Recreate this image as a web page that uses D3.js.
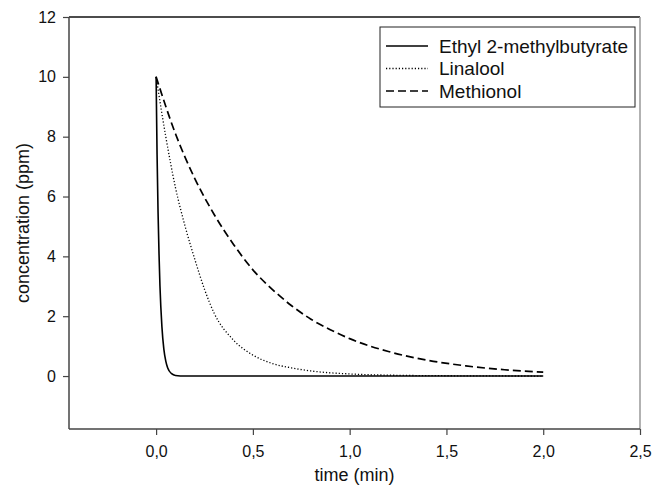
<!DOCTYPE html>
<html>
<head>
<meta charset="utf-8">
<script src="https://cdn.jsdelivr.net/npm/d3@7"></script>
<style>
  html, body { margin:0; padding:0; background:#fff; }
  svg { display:block; font-family: "Liberation Sans", Arial, sans-serif; }
</style>
</head>
<body>
<svg id="chart" width="653" height="491"></svg>
<script>
// --- Data ---
const ethylT   = [0, 0.005, 0.01, 0.015, 0.02, 0.03, 0.04, 0.05, 0.06, 0.08, 0.1, 0.15, 0.2, 0.5, 1.0, 1.5, 2.0];
const ethylC   = [10, 7.4, 5.5, 4.1, 3.0, 1.65, 0.9, 0.5, 0.27, 0.08, 0.02, 0, 0, 0, 0, 0, 0];

const linaloolT = [0, 0.05, 0.1, 0.15, 0.2, 0.25, 0.3, 0.4, 0.5, 0.6, 0.7, 0.8, 1.0, 1.2, 1.5, 2.0];
const linaloolC = [10, 8.0, 6.3, 5.0, 3.9, 2.9, 2.1, 1.2, 0.7, 0.42, 0.27, 0.17, 0.07, 0.03, 0.01, 0];

const methT = [0, 0.1, 0.2, 0.3, 0.4, 0.5, 0.6, 0.7, 0.8, 0.9, 1.0, 1.2, 1.4, 1.6, 1.8, 2.0];
const methC = [10, 8.1, 6.6, 5.4, 4.4, 3.55, 2.9, 2.35, 1.9, 1.55, 1.25, 0.82, 0.53, 0.34, 0.21, 0.13];

const seriesNames = ["Ethyl 2-methylbutyrate", "Linalool", "Methionol"];
const xTicks = [0, 0.5, 1.0, 1.5, 2.0, 2.5];
const yTicks = [0, 2, 4, 6, 8, 10, 12];

// dash pattern per series
const dashes = [null, "1.2,2", "8,4"];
const widths = [1.6, 1.3, 1.7];

const series = [
  ethylT.map((t,i)=>({t, c:ethylC[i]})),
  linaloolT.map((t,i)=>({t, c:linaloolC[i]})),
  methT.map((t,i)=>({t, c:methC[i]}))
];

// --- Layout ---
const svg = d3.select("#chart");
const L=69, R=640, T=17, B=429;
const x = d3.scaleLinear().domain([-0.45, 2.5]).range([L, R]);
const y = d3.scaleLinear().domain([-1.77, 12]).range([B, T]);
const fmt = d => d3.format(".1f")(d).replace(".", ",");

// frame
svg.append("line").attr("x1",L).attr("x2",R).attr("y1",T).attr("y2",T).attr("stroke","#111").attr("stroke-width",1.5);
svg.append("line").attr("x1",R).attr("x2",R).attr("y1",T).attr("y2",B).attr("stroke","#999").attr("stroke-width",1.5);

// axes
const gx = svg.append("g").attr("transform",`translate(0,${B})`)
  .call(d3.axisBottom(x).tickValues(xTicks).tickFormat(fmt).tickSize(6).tickPadding(11));
const gy = svg.append("g").attr("transform",`translate(${L},0)`)
  .call(d3.axisLeft(y).tickValues(yTicks).tickFormat(d3.format("d")).tickSize(6).tickPadding(7));
[gx, gy].forEach(g=>{
  g.select(".domain").attr("stroke","#444").attr("stroke-width",1.5);
  g.selectAll(".tick line").attr("stroke","#444").attr("stroke-width",1.2);
  g.selectAll(".tick text").attr("fill","#111").style("font-size","16px").style("font-family","Liberation Sans, Arial, sans-serif");
});
gx.select(".domain").attr("d", `M${L},0H${R}`);
gy.select(".domain").attr("d", `M0,${T}V${B}`);

// axis titles
svg.append("text").attr("x",(L+R)/2).attr("y",481).attr("text-anchor","middle")
  .style("font-size","18px").attr("fill","#111").text("time (min)");
svg.append("text").attr("transform",`translate(29,${(T+B)/2}) rotate(-90)`).attr("text-anchor","middle")
  .style("font-size","18px").attr("fill","#111").text("concentration (ppm)");

// curves
const line = d3.line().x(d=>x(d.t)).y(d=>y(d.c)).curve(d3.curveMonotoneX);
series.forEach((s,i)=>{
  svg.append("path").datum(s).attr("d", line).attr("fill","none")
    .attr("stroke","#000").attr("stroke-width",widths[i])
    .attr("stroke-dasharray", dashes[i]);
});

// legend
const lg = svg.append("g");
lg.append("rect").attr("x",380).attr("y",27).attr("width",255).attr("height",80)
  .attr("fill","#fff").attr("stroke","#222").attr("stroke-width",1);
seriesNames.forEach((name,i)=>{
  const cy = 46 + i*22.5;
  lg.append("line").attr("x1",386).attr("x2",428).attr("y1",cy).attr("y2",cy)
    .attr("stroke","#000").attr("stroke-width",widths[i]).attr("stroke-dasharray",dashes[i]);
  lg.append("text").attr("x",439).attr("y",cy).attr("dy","0.35em")
    .style("font-size","19px").attr("fill","#111").text(name);
});
</script>
</body>
</html>
